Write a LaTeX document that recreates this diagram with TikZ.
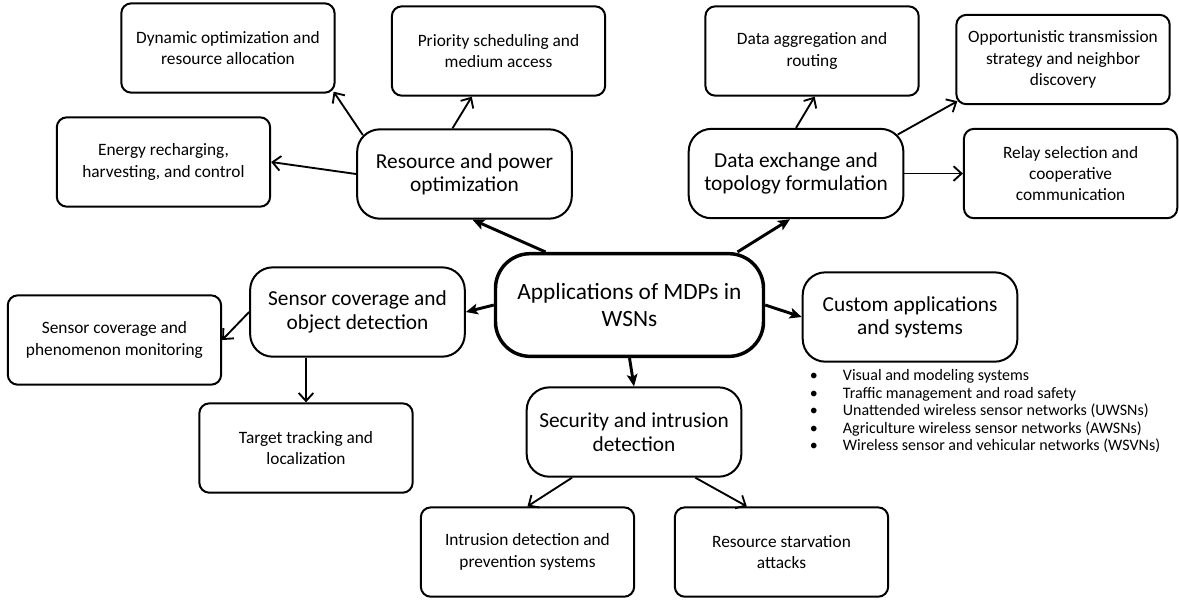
\documentclass[tikz,border=0pt]{standalone}
\usepackage{fontspec}
\setmainfont{Carlito}
\usetikzlibrary{positioning,arrows.meta}
\newcommand{\bul}{\makebox[24.75pt][l]{\textbullet}}

\begin{document}
\begin{tikzpicture}[on grid,
    root/.style = {draw, line width=2.6pt, rounded corners=26pt, minimum width=201pt, minimum height=77pt, align=center, font=\fontsize{17.5}{20.8}\selectfont},
    branch/.style = {draw, line width=1.5pt, rounded corners=17pt, minimum width=161pt, minimum height=67pt, align=center, font=\fontsize{16}{17.5}\selectfont},
    leaf/.style = {draw, line width=1.5pt, rounded corners=7.5pt, minimum width=160pt, minimum height=67pt, align=center, font=\fontsize{13}{16}\selectfont},
    boldarr/.style = {-{Stealth[length=9pt,width=8pt,inset=2pt]}, line width=2.2pt},
    arr/.style = {-{Straight Barb[length=6pt,width=11pt]}, line width=1.4pt}]
        \useasboundingbox (-472.1pt,-222pt) rectangle (412.1pt,228.75pt);
        \node[root] (0) {Applications of MDPs in\\WSNs};
        \node[branch] (1) [above left=98.25pt and 123.75pt of 0] {Resource and power\\optimization};
        \node[branch] (2) [above right=98.6pt and 124.9pt of 0] {Data exchange and\\topology formulation};
        \node[branch] (3) [below left=5.25pt and 204pt of 0] {Sensor coverage and\\object detection};
        \node[branch] (4) [below right=9pt and 210.4pt of 0] {Custom applications\\and systems};
        \node[branch] (5) [below right=95.25pt and 3.4pt of 0] {Security and intrusion\\detection};
        \node[leaf] (6) [above left=94.5pt and 177.4pt of 1] {Dynamic optimization and\\resource allocation};
        \node[leaf] (7) [above right=92.25pt and 25.5pt of 1] {Priority scheduling and\\medium access};
        \node[leaf] (8) [above left=9pt and 225.75pt of 1] {Energy recharging,\\harvesting, and control};
        \node[leaf] (9) [above right=91.9pt and 12pt of 2] {Data aggregation and\\routing};
        \node[leaf] (10) [above right=85.5pt and 200.25pt of 2] {Opportunistic transmission\\strategy and neighbor\\discovery};
        \node[leaf] (11) [right=205.9pt of 2] {Relay selection and\\cooperative\\communication};
        \node[leaf] (12) [below left=21pt and 182.25pt of 3] {Sensor coverage and\\phenomenon monitoring};
        \node[leaf] (13) [below left=102pt and 38.6pt of 3] {Target tracking and\\localization};
        \node[leaf] (14) [below left=90pt and 79.9pt of 5] {Intrusion detection and\\prevention systems};
        \node[leaf] (15) [below right=90pt and 110.6pt of 5] {Resource starvation\\attacks};
        \node[anchor=north west, align=left, inner sep=0pt, font=\fontsize{12}{13.1}\selectfont] (16) at ([xshift=6pt,yshift=-5pt]4.south west)
            {\bul Visual and modeling systems\\ \bul Traffic management and road safety\\ \bul Unattended wireless sensor networks (UWSNs)\\ \bul Agriculture wireless sensor networks (AWSNs)\\ \bul Wireless sensor and vehicular networks (WSVNs)};
        %
        \draw[boldarr] ([xshift=-63pt]0.north) -- ([xshift=6pt]1.south);
        \draw[boldarr] ([xshift=81pt]0.north) -- ([xshift=-4.5pt]2.south);
        \draw[boldarr] (0.west) -- (3.east);
        \draw[boldarr] (0.east) -- (4.west);
        \draw[boldarr] (0.south) -- (5.north);
        %
        \draw[arr] ([xshift=5pt,yshift=-5pt]1.north west) -- ([xshift=-1.5pt,yshift=1.5pt]6.south east);
        \draw[arr] ([xshift=-9pt]1.north) -- ([xshift=-20pt]7.south);
        \draw[arr] (1.west) -- (8.east);
        \draw[arr] (2.north) -- ([xshift=2pt]9.south);
        \draw[arr] ([xshift=-5pt,yshift=-5pt]2.north east) -- ([xshift=1.5pt,yshift=3pt]10.south west);
        \draw[arr] (2.east) -- (11.west);
        \draw[arr] (3.west) -- (12.east);
        \draw[arr] (13.north |- 3.south) -- (13.north);
        \draw[arr] ([xshift=-46.5pt]5.south) -- (14.north);
        \draw[arr] ([xshift=46pt]5.south) -- ([xshift=-26pt]15.north);
      \end{tikzpicture}
\end{document}
